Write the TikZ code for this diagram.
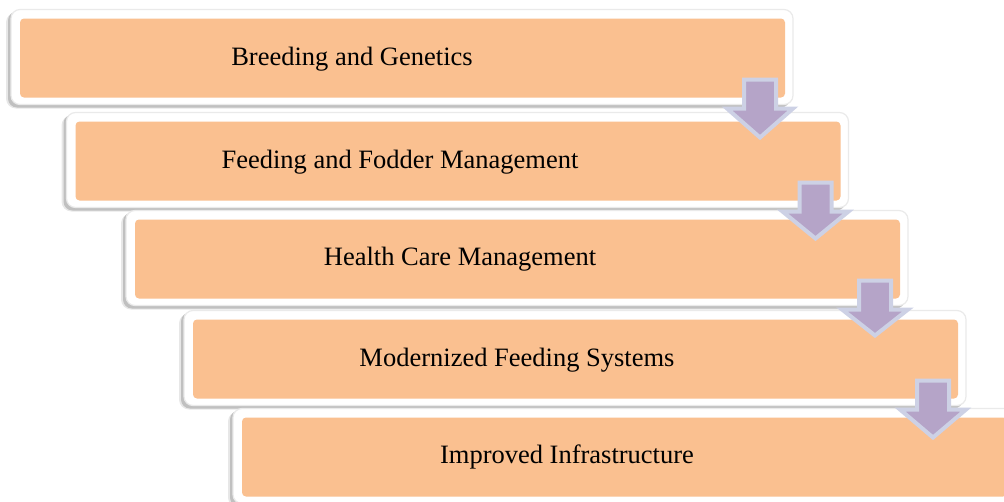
\documentclass[tikz,border=0pt]{standalone}
\usepackage{fontspec}
\setmainfont{Liberation Serif}
\usetikzlibrary{calc,backgrounds}
\definecolor{stepfill}{RGB}{250,192,144}
\definecolor{framegray}{RGB}{234,234,234}
\definecolor{shadowgray}{RGB}{175,175,175}
\definecolor{arrowfill}{RGB}{181,164,200}
\definecolor{arrowrim}{RGB}{205,209,229}
\tikzset{
  stepbox/.style={fill=stepfill, rounded corners=4pt, minimum width=765pt,
    minimum height=79pt, inner sep=0pt, outer sep=0pt},
  steptext/.style={font=\fontsize{26.5}{30}\selectfont, inner sep=0pt},
  framebox/.style={fill=white, draw=framegray, line width=1.2pt, rounded corners=9pt},
  shadowsoft/.style={fill=shadowgray, opacity=0.3, rounded corners=10pt},
  shadowcore/.style={fill=shadowgray, opacity=0.7, rounded corners=9pt},
  blockarrow/.style={fill=arrowfill, draw=arrowrim, line width=4pt, line join=miter},
}
% white frame with a soft shadow round a step panel
\newcommand{\stepframe}[1]{%
  \fill[shadowsoft] ($(#1.south west)+(-14,11)$) rectangle ($(#1.north east)+(3,-6)$);
  \fill[shadowcore] ($(#1.south west)+(-12,10)$) rectangle ($(#1.north east)+(5,-7)$);
  \draw[framebox] ($(#1.south west)+(-9,7)$) rectangle ($(#1.north east)+(8,-9)$);
}
% block arrow hanging below the right end of a step, tip depth #2
\newcommand{\steparrow}[2]{%
  \draw[blockarrow]
    ($(#1.south east)+(-41,-18)$) -- ($(#1.south east)+(-9,-18)$)
    -- ($(#1.south east)+(-9,11)$) -- ($(#1.south east)+(8,11)$)
    -- ($(#1.south east)+(-25,#2)$) -- ($(#1.south east)+(-58,11)$)
    -- ($(#1.south east)+(-41,11)$) -- cycle;
}
\begin{document}
\begin{tikzpicture}[x=1pt,y=-1pt]
  \path[use as bounding box] (0,0) rectangle (1004,501);
  \clip (0,0) rectangle (1004,501);

  % step panels (y runs downwards)
  \node[stepbox] (b1) at (402.5,58) {};
  \node[stepbox] (b2) at (458,161) {};
  \node[stepbox] (b3) at (517.5,259) {};
  \node[stepbox] (b4) at (575.5,359) {};
  \node[stepbox] (b5) at (624.5,457) {};

  \begin{scope}[on background layer]
    \stepframe{b1}
    \stepframe{b2}
    \stepframe{b3}
    \stepframe{b4}
    \stepframe{b5}
  \end{scope}

  \node[steptext] (t1) at (352,59) {Breeding and Genetics};
  \node[steptext] (t2) at (400,162) {Feeding and Fodder Management};
  \node[steptext] (t3) at (460,259) {Health Care Management};
  \node[steptext] (t4) at (517,360) {Modernized Feeding Systems};
  \node[steptext] (t5) at (567,457) {Improved Infrastructure};

  \steparrow{b1}{40}
  \steparrow{b2}{38}
  \steparrow{b3}{37}
  \steparrow{b4}{39}
\end{tikzpicture}
\end{document}
